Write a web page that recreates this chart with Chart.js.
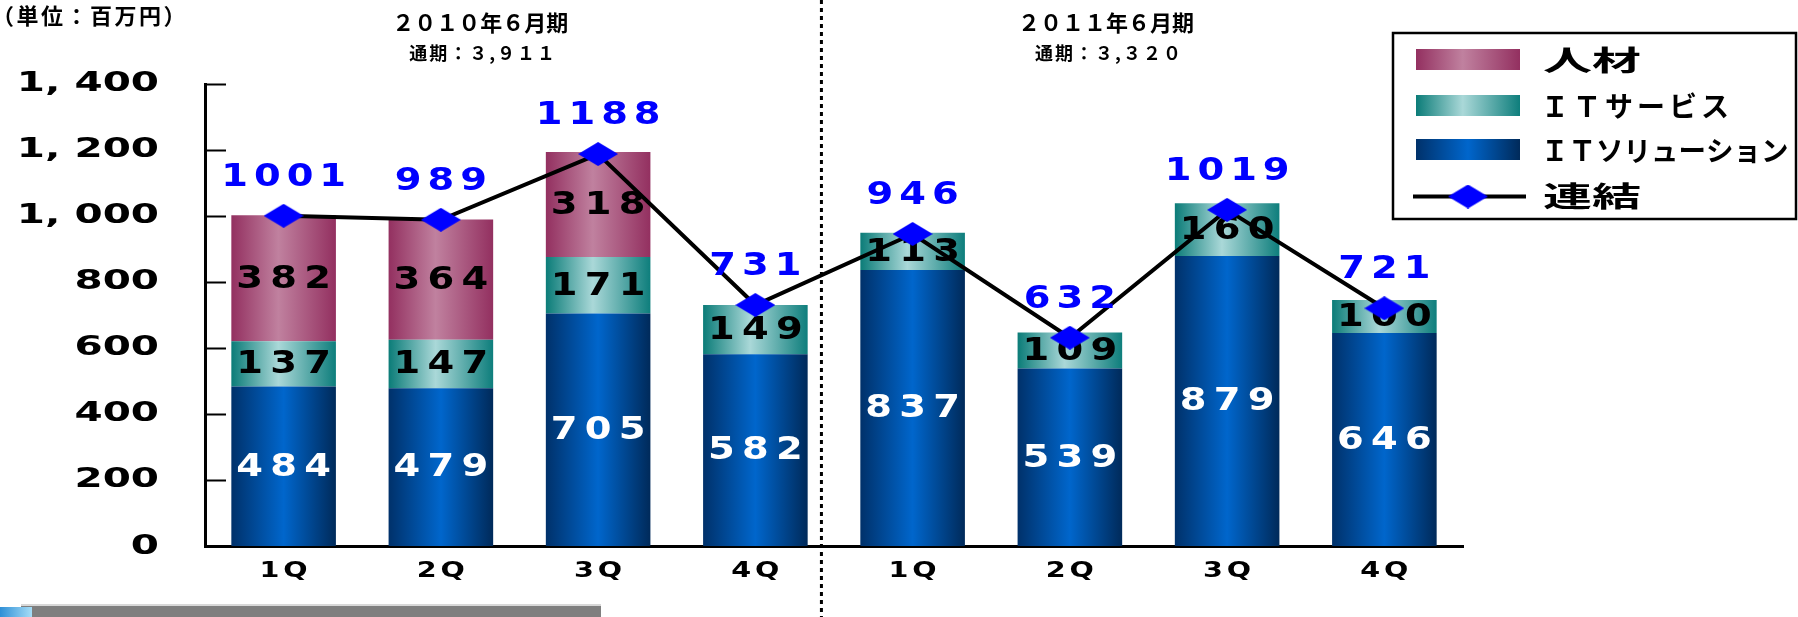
<!DOCTYPE html>
<html lang="ja">
<head>
<meta charset="utf-8">
<title>セグメント別売上高 四半期推移</title>
<script src="https://cdn.jsdelivr.net/npm/chart.js@4/dist/chart.umd.min.js"></script>
<style>
  html, body { margin: 0; padding: 0; background: #ffffff; }
  #wrap { position: relative; width: 1798px; height: 617px; }
</style>
</head>
<body>
<div id="wrap"><canvas id="chart" width="1798" height="617"></canvas></div>
<script>
// ---- data (百万円) ----
const quarters = ['1Q', '2Q', '3Q', '4Q', '1Q', '2Q', '3Q', '4Q'];
const fiscalYears = ['２０１０年６月期', '２０１１年６月期'];
const fullYearTotals = ['通期：３,９１１', '通期：３,３２０'];
const seriesNames = ['人材', 'ＩＴサービス', 'ＩＴソリューション', '連結'];
const jinzai = [382, 364, 318, null, null, null, null, null];
const itService = [137, 147, 171, 149, 113, 109, 160, 100];
const itSolution = [484, 479, 705, 582, 837, 539, 879, 646];
const consolidated = [1001, 989, 1188, 731, 946, 632, 1019, 721];
const yTicks = [0, 200, 400, 600, 800, 1000, 1200, 1400];
const unitLabel = '（単位：百万円）';

// ---- styling ----
const BAR_PCT = 0.665;
const NUM_FONT = 'bold 32px "DejaVu Sans"';
const NUM_STRETCH = 1.2;
const NUM_SPACING = 5;
const JP_FONT = '"Noto Sans CJK JP", "Noto Sans", sans-serif';
const STOPS = {
  jinzai:   [[0, '#933060'], [0.45, '#C0819F'], [1, '#933060']],
  service:  [[0, '#0B7C78'], [0.45, '#AAD8D8'], [1, '#0E7E7C']],
  solution: [[0, '#00316A'], [0.5, '#0066CC'], [1, '#002A5A']]
};
// horizontal stretch / tracking of the axis labels (value axis: right aligned, category axis: centred)
const TICK_STYLE = {
  right:  { sx: 1.5, spacing: 0 },
  center: { sx: 1.3, spacing: 3 }
};

function barGradient(stops) {
  return (c) => {
    const chart = c.chart;
    const x = chart.scales && chart.scales.x;
    if (!x || !chart.chartArea || c.dataIndex === undefined) return stops[1][1];
    const mid = x.getPixelForValue(c.dataIndex);
    const w = x.width / quarters.length * BAR_PCT;
    const g = chart.ctx.createLinearGradient(mid - w / 2, 0, mid + w / 2, 0);
    stops.forEach(([o, col]) => g.addColorStop(o, col));
    return g;
  };
}

function diamond(w, h) {
  const cv = document.createElement('canvas');
  cv.width = w; cv.height = h;
  const g = cv.getContext('2d');
  g.fillStyle = '#0000FF';
  g.beginPath();
  g.moveTo(w / 2, 0); g.lineTo(w, h / 2); g.lineTo(w / 2, h); g.lineTo(0, h / 2);
  g.closePath(); g.fill();
  return cv;
}
const marker = diamond(40, 24);

function drawText(ctx, str, x, y, o) {
  const sp = o.spacing || 0;
  ctx.save();
  ctx.font = o.font;
  ctx.fillStyle = o.color || '#000';
  ctx.textBaseline = 'middle';
  ctx.textAlign = o.align || 'center';
  ctx.letterSpacing = sp + 'px';
  const dx = ctx.textAlign === 'center' ? sp / 2 : (ctx.textAlign === 'right' ? sp : 0);
  ctx.translate(x, y);
  ctx.scale(o.sx || 1, 1);
  ctx.fillText(str, dx, 0);
  ctx.restore();
}

// text colour of the value printed inside each stacked segment
const segmentTextColor = { [seriesNames[0]]: '#000', [seriesNames[1]]: '#000', [seriesNames[2]]: '#fff' };

const decor = {
  id: 'decor',
  beforeDraw(chart) {
    // wide, tracked lettering for the axis labels drawn by the scales
    const ctx = chart.ctx;
    const plain = CanvasRenderingContext2D.prototype.fillText;
    ctx.fillText = function (t, x, y) {
      const st = TICK_STYLE[this.textAlign] || { sx: 1, spacing: 0 };
      this.save();
      this.letterSpacing = st.spacing + 'px';
      this.translate(x, y);
      this.scale(st.sx, 1);
      plain.call(this, t, this.textAlign === 'center' ? st.spacing / 2 : 0, 0);
      this.restore();
    };
  },
  beforeDatasetsDraw(chart) {
    const { ctx, scales: { x } } = chart;
    delete ctx.fillText;
    const px = x.getPixelForValue(3.42);
    ctx.save();
    ctx.strokeStyle = '#000';
    ctx.lineWidth = 3;
    ctx.setLineDash([4, 4]);
    ctx.beginPath();
    ctx.moveTo(px, 0); ctx.lineTo(px, chart.height);
    ctx.stroke();
    ctx.restore();
  },
  afterDatasetDraw(chart, args) {
    const meta = args.meta;
    if (meta.type !== 'bar') return;
    const ds = chart.data.datasets[args.index];
    meta.data.forEach((el, i) => {
      const v = ds.data[i];
      if (v === null || v === undefined) return;
      drawText(chart.ctx, String(v), el.x, (el.y + el.base) / 2 + 1,
        { font: NUM_FONT, color: segmentTextColor[ds.label], spacing: NUM_SPACING + 1, sx: NUM_STRETCH });
    });
  },
  afterDatasetsDraw(chart) {
    const idx = chart.data.datasets.findIndex(d => d.type === 'line');
    const meta = chart.getDatasetMeta(idx);
    meta.data.forEach((pt, i) => {
      drawText(chart.ctx, String(consolidated[i]), pt.x, pt.y - 38.5,
        { font: NUM_FONT, color: '#0000FF', spacing: NUM_SPACING, sx: NUM_STRETCH });
    });
  },
  afterDraw(chart) {
    const { ctx, scales: { x, y } } = chart;
    ctx.save();
    ctx.letterSpacing = '0px';

    // inward tick marks on the value axis
    ctx.strokeStyle = '#000';
    ctx.lineWidth = 2;
    yTicks.forEach(v => {
      if (v === 0) return;
      const py = Math.round(y.getPixelForValue(v)) + 0.5;
      ctx.beginPath();
      ctx.moveTo(x.left, py); ctx.lineTo(x.left + 21, py);
      ctx.stroke();
    });

    // unit
    drawText(ctx, unitLabel, -8, 16, { font: 'bold 22px ' + JP_FONT, align: 'left', spacing: 2.5 });

    // fiscal year headings
    [1.25, 5.23].forEach((pos, k) => {
      const cx = x.getPixelForValue(pos);
      drawText(ctx, fiscalYears[k], cx, 23, { font: 'bold 22px ' + JP_FONT });
      drawText(ctx, fullYearTotals[k], cx + 2, 53, { font: 'bold 18px ' + JP_FONT, spacing: 2 });
    });

    // legend
    ctx.lineWidth = 2.5;
    ctx.strokeStyle = '#000';
    ctx.strokeRect(1393, 33, 403, 186);
    const legendStops = [STOPS.jinzai, STOPS.service, STOPS.solution];
    const rowY = [59.5, 105.5, 149.5, 196.5];
    legendStops.forEach((stops, k) => {
      const g = ctx.createLinearGradient(1416, 0, 1520, 0);
      stops.forEach(([o, col]) => g.addColorStop(o, col));
      ctx.fillStyle = g;
      ctx.fillRect(1416, rowY[k] - 10.5, 104, 21);
    });
    ctx.lineWidth = 4;
    ctx.beginPath();
    ctx.moveTo(1413, rowY[3]); ctx.lineTo(1526, rowY[3]);
    ctx.stroke();
    ctx.drawImage(marker, 1468 - 20, rowY[3] - 12);
    const lf = 'bold 28px ' + JP_FONT;
    drawText(ctx, seriesNames[0], 1543, rowY[0] + 1, { font: lf, align: 'left', sx: 1.75 });
    drawText(ctx, seriesNames[1], 1541, rowY[1] + 1, { font: lf, align: 'left', spacing: 4 });
    drawText(ctx, seriesNames[2], 1541, rowY[2] + 1, { font: 'bold 27.5px ' + JP_FONT, align: 'left' });
    drawText(ctx, seriesNames[3], 1543, rowY[3], { font: lf, align: 'left', sx: 1.75 });

    // footer strip
    ctx.fillStyle = '#D8D8D8';
    ctx.fillRect(21, 604, 580, 2);
    ctx.fillStyle = '#7F7F7F';
    ctx.fillRect(21, 606, 580, 11);
    const bg = ctx.createLinearGradient(0, 0, 32, 0);
    bg.addColorStop(0, '#2E8FD6');
    bg.addColorStop(1, '#A6DDF7');
    ctx.fillStyle = bg;
    ctx.fillRect(0, 607, 32, 10);
    ctx.restore();
  }
};

new Chart(document.getElementById('chart'), {
  data: {
    labels: quarters,
    datasets: [
      {
        type: 'line', label: seriesNames[3], data: consolidated,
        borderColor: '#000000', borderWidth: 4, tension: 0, fill: false,
        pointStyle: marker, pointRadius: 12, pointHoverRadius: 12,
        order: 0, stack: 'total'
      },
      {
        type: 'bar', label: seriesNames[2], data: itSolution,
        backgroundColor: barGradient(STOPS.solution), borderWidth: 0,
        stack: 'segments', order: 1,
        categoryPercentage: 1, barPercentage: BAR_PCT
      },
      {
        type: 'bar', label: seriesNames[1], data: itService,
        backgroundColor: barGradient(STOPS.service), borderWidth: 0,
        stack: 'segments', order: 1,
        categoryPercentage: 1, barPercentage: BAR_PCT
      },
      {
        type: 'bar', label: seriesNames[0], data: jinzai,
        backgroundColor: barGradient(STOPS.jinzai), borderWidth: 0,
        stack: 'segments', order: 1,
        categoryPercentage: 1, barPercentage: BAR_PCT
      }
    ]
  },
  options: {
    responsive: false,
    animation: false,
    devicePixelRatio: 1,
    events: [],
    layout: { padding: { left: 0, top: 84, right: 335, bottom: 0 } },
    plugins: { legend: { display: false }, tooltip: { enabled: false } },
    scales: {
      x: {
        stacked: true,
        offset: true,
        grid: { display: true, drawOnChartArea: false, drawTicks: false },
        border: { display: true, color: '#000', width: 3 },
        ticks: {
          color: '#000', padding: 11.3,
          font: { family: 'DejaVu Sans', weight: 'bold', size: 22 },
          maxRotation: 0, autoSkip: false
        },
        afterFit: s => { s.height = 70.5; }
      },
      y: {
        stacked: true,
        min: yTicks[0], max: yTicks[yTicks.length - 1],
        afterBuildTicks: s => { s.ticks = yTicks.map(v => ({ value: v })); },
        grid: { display: true, drawOnChartArea: false, drawTicks: false },
        border: { display: true, color: '#000', width: 3 },
        ticks: {
          color: '#000', padding: 46,
          font: { family: 'DejaVu Sans', weight: 'bold', size: 27 },
          callback: v => v.toLocaleString('en-US').replace(',', ', ')
        },
        afterFit: s => { s.width = 205; }
      }
    }
  },
  plugins: [decor]
});
</script>
</body>
</html>
